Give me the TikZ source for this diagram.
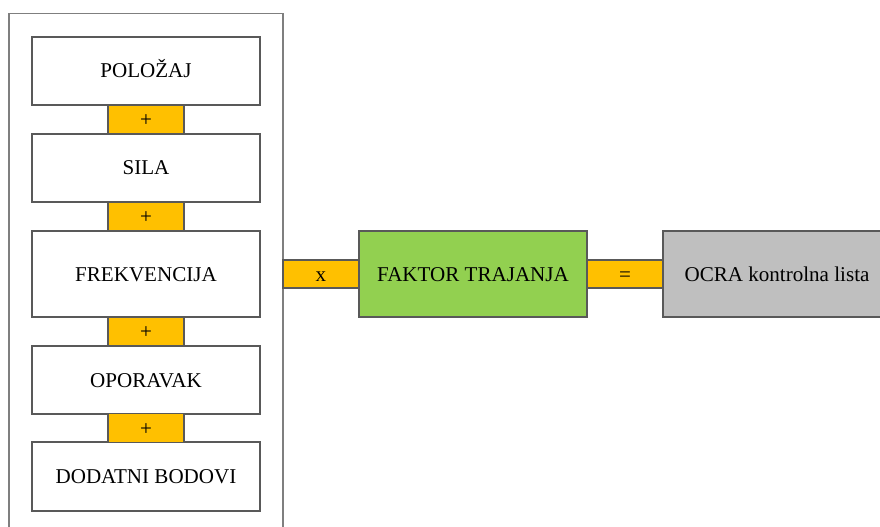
\documentclass[tikz,border=0pt]{standalone}
\usepackage{fontspec}
\setmainfont{Liberation Serif}
\definecolor{plusorange}{HTML}{FFC000}
\definecolor{faktorgreen}{HTML}{92D050}
\definecolor{ocragray}{HTML}{BFBFBF}
\definecolor{edgegray}{HTML}{595959}
\definecolor{framegray}{HTML}{7F7F7F}
\begin{document}
\begin{tikzpicture}[x=0.75pt,y=-0.75pt,
  every node/.style={inner sep=0pt,outer sep=0pt,font=\fontsize{15.8}{19}\selectfont,text height=10.5pt,text depth=0pt},
  stepbox/.style={draw=edgegray,line width=0.8pt,fill=white,minimum width=171pt,minimum height=51pt},
  opbox/.style={draw=edgegray,line width=0.8pt,fill=plusorange,minimum width=57pt,minimum height=21.5pt},
  framebox/.style={draw=framegray,line width=0.8pt,minimum width=205.5pt,minimum height=400pt}]
\useasboundingbox (0,0) rectangle (880,527);
\begin{scope}
\clip (0,0) rectangle (880,527);
\node[framebox] (frame) at (146,280) {};
\node[stepbox] (polozaj) at (146,71) {POLOŽAJ};
\node[stepbox] (sila) at (146,168) {SILA};
\node[stepbox,minimum height=64.5pt] (frekv) at (146,274) {FREKVENCIJA};
\node[stepbox] (oporavak) at (146,380) {OPORAVAK};
\node[stepbox,minimum height=51.75pt] (dodatni) at (146,476.5) {DODATNI BODOVI};
\node[opbox] (p1) at (146,119.5) {+};
\node[opbox] (p2) at (146,216.5) {+};
\node[opbox] (p3) at (146,331.5) {+};
\node[opbox] (p4) at (146,428) {+};
\node[stepbox,fill=faktorgreen,minimum height=64.5pt] (faktor) at (473,274) {FAKTOR TRAJANJA};
\node[stepbox,fill=ocragray,minimum height=64.5pt] (ocra) at (777,274) {OCRA kontrolna lista};
\node[opbox,minimum height=21pt] (times) at (321,274) {x};
\node[opbox,minimum height=21pt] (equals) at (625,274) {=};
\end{scope}
\end{tikzpicture}
\end{document}
